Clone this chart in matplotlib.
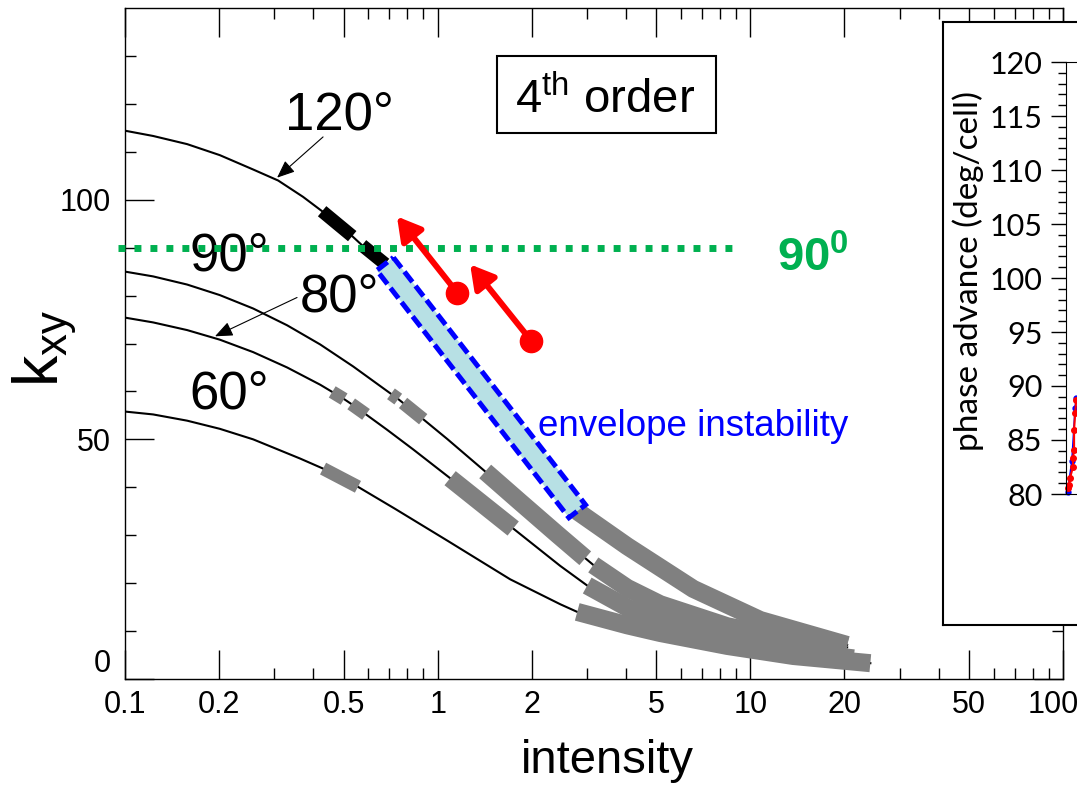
import numpy as np
import matplotlib

matplotlib.use("Agg")
import matplotlib.pyplot as plt
from matplotlib.patches import Rectangle, Polygon
from matplotlib.transforms import ScaledTranslation

W, H = 1077, 786

SANS = ["Liberation Sans", "DejaVu Sans"]
NARROW = ["Liberation Sans Narrow", "Liberation Sans", "DejaVu Sans"]
INSET_FONT = ["Lato", "DejaVu Sans"]

# ---------------- curves (intensity, k_xy) ----------------
i_120 = [0.1, 0.123, 0.158, 0.201, 0.257, 0.309, 0.371, 0.427, 0.477, 0.533,
         0.573, 0.679, 0.946, 1.368, 1.977, 2.795, 4.04, 6.57, 10.76, 20.4]
k_120 = [114.4, 113.3, 111.6, 109.3, 106.3, 104.0, 100.6, 97.6, 95.0, 92.4,
         90.5, 86.6, 73.8, 60.4, 47.3, 35.0, 27.7, 18.8, 12.3, 7.1]

i_90 = [0.1, 0.123, 0.158, 0.201, 0.257, 0.330, 0.421, 0.537, 0.709, 0.748,
        0.775, 0.899, 1.072, 1.419, 1.837, 2.412, 2.965, 3.146, 4.04, 5.15,
        8.44, 13.73, 20.4]
k_90 = [85.0, 84.0, 82.3, 80.1, 77.3, 73.8, 69.8, 65.2, 59.5, 58.4,
        57.6, 54.2, 50.1, 43.3, 36.9, 30.2, 25.2, 23.8, 19.0, 15.6,
        11.0, 8.3, 6.6]

i_80 = [0.1, 0.123, 0.158, 0.201, 0.257, 0.330, 0.421, 0.460, 0.502, 0.529,
        0.590, 0.689, 0.835, 1.096, 1.744, 2.466, 3.008, 4.04, 5.15, 8.44,
        13.73, 21.4]
k_80 = [75.4, 74.4, 72.8, 70.8, 68.2, 65.0, 61.4, 59.9, 58.4, 57.4,
        55.2, 52.0, 47.9, 41.9, 31.4, 23.6, 19.5, 14.9, 12.0, 8.2,
        5.8, 4.3]

i_60 = [0.1, 0.123, 0.158, 0.201, 0.257, 0.363, 0.430, 0.556, 0.731, 1.072,
        1.706, 2.466, 2.795, 4.04, 5.15, 8.44, 13.73, 24.2]
k_60 = [55.8, 55.2, 53.9, 52.2, 50.0, 46.0, 43.9, 40.1, 35.5, 28.9,
        20.8, 15.6, 14.0, 11.2, 9.6, 6.9, 4.8, 3.3]

# highlighted pieces of the curves (index ranges into the lists above)
black_blocks_120 = [(7, 9), (10, 11)]
band_120 = (11, 15)
gray_bands = {"120": [(15, 19)], "90": [(13, 16), (17, 22)],
              "80": [(13, 14), (16, 21)], "60": [(12, 17)]}
gray_patches = {"90": [(8, 9), (10, 11)], "80": [(7, 8), (9, 10)], "60": [(6, 7)]}

curve_labels = ["120°", "90°", "80°", "60°"]
label_i = [0.325, 0.161, 0.363, 0.161]
label_k = [117.5, 88.1, 79.6, 59.4]

green_k = 90
green_i = [0.095, 9.0]

arrow_tail_i = [1.155, 1.99]
arrow_tail_k = [80.6, 70.6]
arrow_head_i = [0.741, 1.27]
arrow_head_k = [96.5, 86.5]

# inset (phase advance) points
red_x = [0.4, 0.55, 0.75, 1.3, 1.3, 1.5, 1.5, 1.7, 1.9]
red_y = [80.6, 80.8, 81.5, 82.5, 83.3, 84.1, 85.9, 87.5, 88.7]
blue_x = [0.3, 1.1, 1.7, 1.9]
blue_y = [80.2, 83.1, 88.0, 88.9]

x_major = [0.1, 0.2, 0.5, 1, 2, 5, 10, 20, 50, 100]
x_major_lab = ["0.1", "0.2", "0.5", "1", "2", "5", "10", "20", "50", "100"]
x_minor = [0.3, 0.4, 0.6, 0.7, 0.8, 0.9, 3, 4, 6, 7, 8, 9, 30, 40, 60, 70, 80, 90]
y_major = [0, 50, 100]
y_minor = [10, 20, 30, 40, 60, 70, 80, 90, 110, 120, 130]

curves = {"120": (i_120, k_120), "90": (i_90, k_90), "80": (i_80, k_80), "60": (i_60, k_60)}


def band_corners(ax, p0, p1, half_px):
    # rectangle of given half width (pixels) around the straight segment p0-p1
    tr = ax.transData
    a = tr.transform(p0)
    b = tr.transform(p1)
    d = (b - a) / np.hypot(*(b - a))
    n = np.array([-d[1], d[0]]) * half_px
    pts = np.array([a + n, b + n, b - n, a - n])
    return tr.inverted().transform(pts)


def main():
    plt.rcParams["font.family"] = SANS
    plt.rcParams["mathtext.default"] = "regular"

    fig = plt.figure(figsize=(W / 100, H / 100), dpi=100)
    ax = fig.add_axes([125 / W, 107 / H, 938 / W, 671 / H])
    ax.set_xscale("log")
    ax.set_xlim(0.1, 100)
    ax.set_ylim(0, 140)

    # thin curves
    for name, (xs, ys) in curves.items():
        ax.plot(xs, ys, color="black", lw=1.5, zorder=2, solid_joinstyle="round")

    # thick highlighted pieces
    for name, segs in gray_bands.items():
        xs, ys = curves[name]
        for a, b in segs:
            ax.plot(xs[a:b + 1], ys[a:b + 1], color="#808080", lw=13,
                    solid_capstyle="butt", solid_joinstyle="round", zorder=3)
    for name, segs in gray_patches.items():
        xs, ys = curves[name]
        for a, b in segs:
            ax.plot(xs[a:b + 1], ys[a:b + 1], color="#808080", lw=9.5,
                    solid_capstyle="butt", zorder=3)
    for a, b in black_blocks_120:
        ax.plot(i_120[a:b + 1], k_120[a:b + 1], color="black", lw=9.5,
                solid_capstyle="butt", zorder=3)

    # envelope instability band
    a, b = band_120
    corners = band_corners(ax, (i_120[a], k_120[a]), (i_120[b], k_120[b]), 10.5)
    ax.add_patch(Polygon(corners, closed=True, facecolor="#b7e0e4", edgecolor="blue",
                         lw=3.6, linestyle=(0, (2.6, 1.0)), zorder=4))

    # 90 deg reference line
    ax.plot(green_i, [green_k, green_k], color="#00b050", lw=5,
            linestyle=(0, (1, 1.3)), dash_capstyle="butt", zorder=5, clip_on=False)
    ax.text(12.2, 85.0, "90$^{0}$", color="#00b050", fontsize=34,
            fontweight="bold", ha="left", va="baseline", zorder=6)

    # curve labels + leader arrows
    for t, xi, ki in zip(curve_labels, label_i, label_k):
        ax.text(xi, ki, t, fontsize=38, family=NARROW, ha="left", va="center", zorder=4)
    ax.annotate("", xy=(0.3065, 104.6), xytext=(0.43, 113.1),
                arrowprops=dict(arrowstyle="-|>,head_length=0.6,head_width=0.25",
                                lw=0.8, color="black", shrinkA=0, shrinkB=0,
                                mutation_scale=18))
    ax.annotate("", xy=(0.194, 71.5), xytext=(0.355, 79.6),
                arrowprops=dict(arrowstyle="-|>,head_length=0.6,head_width=0.25",
                                lw=0.8, color="black", shrinkA=0, shrinkB=0,
                                mutation_scale=18))

    # red arrows
    for ti, tk, hi, hk in zip(arrow_tail_i, arrow_tail_k, arrow_head_i, arrow_head_k):
        ax.annotate("", xy=(hi, hk), xytext=(ti, tk),
                    arrowprops=dict(arrowstyle="-|>,head_length=0.7,head_width=0.4",
                                    lw=4.3, color="red", shrinkA=0, shrinkB=0,
                                    mutation_scale=20), zorder=7)
    ax.plot(arrow_tail_i, arrow_tail_k, "o", ms=16, color="red", zorder=8)

    ax.text(2.097, 50.6, "envelope instability", color="blue", fontsize=26.5,
            ha="left", va="baseline", zorder=6)

    # axes styling
    ax.set_xticks(x_major, labels=x_major_lab)
    ax.set_xticks(x_minor, minor=True)
    ax.set_yticks(y_major, labels=[str(v) for v in y_major])
    ax.set_yticks(y_minor, minor=True)
    ax.tick_params(which="major", direction="in", length=21, width=1,
                   top=True, right=True, labelsize=22)
    ax.tick_params(which="minor", direction="in", length=8, width=1,
                   top=True, right=True)
    ax.tick_params(axis="x", which="major", pad=8)
    ax.tick_params(axis="y", which="major", pad=10)
    for lab in ax.get_xticklabels() + ax.get_yticklabels():
        lab.set_family(NARROW)
    ax.get_yticklabels()[0].set_va("bottom")
    # last x label sits at the figure edge: nudge it inward
    last = ax.get_xticklabels()[-1]
    last.set_transform(last.get_transform()
                       + ScaledTranslation(-0.10, 0, fig.dpi_scale_trans))
    for s in ax.spines.values():
        s.set_linewidth(1.0)

    fig.text(607 / W, 1 - 773 / H, "intensity", fontsize=34, ha="center", va="baseline")
    fig.text(45 / W, 1 - 348 / H, "k$_{xy}$", fontsize=45, rotation=90,
             ha="center", va="center")

    # "4th order" box
    fig.add_artist(Rectangle((497 / W, 1 - 133 / H), 219 / W, 77 / H,
                             transform=fig.transFigure, fill=False, lw=1.5,
                             ec="black"))
    fig.text(605 / W, 1 - 113 / H, "4$^{th}$ order", fontsize=34,
             ha="center", va="baseline")

    # inset panel (cut at the right edge)
    box = fig.add_axes([943 / W, 1 - 625 / H, 0.2, 603 / H], zorder=10)
    box.set_xticks([])
    box.set_yticks([])
    for s in box.spines.values():
        s.set_linewidth(1.5)
    box.set_facecolor("white")

    ins = fig.add_axes([1066 / W, 1 - 494 / H, 0.1, 432 / H], zorder=11)
    ins.set_facecolor("none")
    ins.plot(blue_x, blue_y, "o-", color="blue", ms=3.5, lw=1.2, clip_on=False)
    ins.plot(red_x, red_y, "o-", color="red", ms=4, lw=1.5, clip_on=False)
    ins.set_xlim(0, 20)
    ins.set_ylim(80, 120)
    ins.set_yticks(np.arange(80, 121, 5))
    ins.set_yticks(np.arange(80, 121, 1), minor=True)
    ins.set_xticks([])
    ins.tick_params(which="major", direction="out", length=11, width=1,
                    labelsize=22, pad=6)
    ins.tick_params(which="minor", direction="out", length=6, width=1)
    for lab in ins.get_yticklabels():
        lab.set_family(INSET_FONT)
    ins.spines["right"].set_visible(False)
    fig.text(968 / W, 1 - 271 / H, "phase advance (deg/cell)", rotation=90,
             fontsize=24, family=INSET_FONT, ha="center", va="center", zorder=12)

    fig.savefig("out.png", dpi=100)
    plt.close(fig)


if __name__ == "__main__":
    main()
